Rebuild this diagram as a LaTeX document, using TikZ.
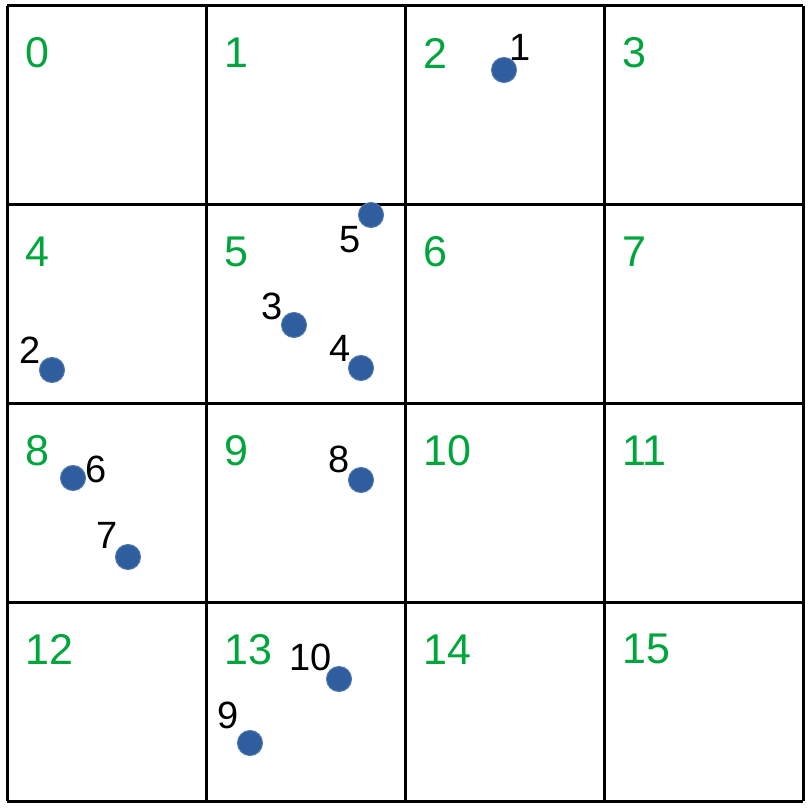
\documentclass[tikz,border=0pt]{standalone}
\usepackage{fontspec}
\setmainfont{Liberation Sans}
\definecolor{cellgreen}{RGB}{0,166,60}
\definecolor{dotblue}{RGB}{46,94,158}
\begin{document}
\begin{tikzpicture}[x=1pt,y=-1pt,
  gridline/.style={line width=3pt,black},
  celllabel/.style={anchor=west,inner sep=0pt,text=cellgreen,font=\fontsize{43}{43}\selectfont},
  pt/.style={circle,fill=dotblue,draw=dotblue!85!white,line width=1pt,minimum size=25pt,inner sep=0pt},
  ptlabel/.style={inner sep=0pt,text=black,font=\fontsize{38}{38}\selectfont}]
\useasboundingbox[fill=white] (0,0) rectangle (811,810);
% grid
\foreach \i in {0,...,4} {
  \draw[gridline] ({7+199*\i},6) -- ({7+199*\i},801);
  \draw[gridline] (7,{6+198.75*\i}) -- (803,{6+198.75*\i});
}
% cell numbers
\foreach \r in {0,...,3} {
  \foreach \c in {0,...,3} {
    \pgfmathtruncatemacro{\n}{4*\r+\c}
    \node[celllabel] (c\n) at ({7+199*\c+18},{6+198.75*\r+47}) {\n};
  }
}
% points
\node[pt] (p1) at (504,70) {};
\node[pt] (p2) at (52,370) {};
\node[pt] (p3) at (294,325) {};
\node[pt] (p4) at (361,368) {};
\node[pt] (p5) at (371,215) {};
\node[pt] (p6) at (73,478) {};
\node[pt] (p7) at (128,557) {};
\node[pt] (p8) at (361,480) {};
\node[pt] (p9) at (250,743) {};
\node[pt] (p10) at (339,679) {};
% point labels
\node[ptlabel] (l1) at (520,47) {1};
\node[ptlabel] (l2) at (30,350) {2};
\node[ptlabel] (l3) at (272,306) {3};
\node[ptlabel] (l4) at (340,348) {4};
\node[ptlabel] (l5) at (350,240) {5};
\node[ptlabel] (l6) at (96,469) {6};
\node[ptlabel] (l7) at (107,535) {7};
\node[ptlabel] (l8) at (339,459) {8};
\node[ptlabel] (l9) at (228,715) {9};
\node[ptlabel] (l10) at (311,657) {10};
\end{tikzpicture}
\end{document}
